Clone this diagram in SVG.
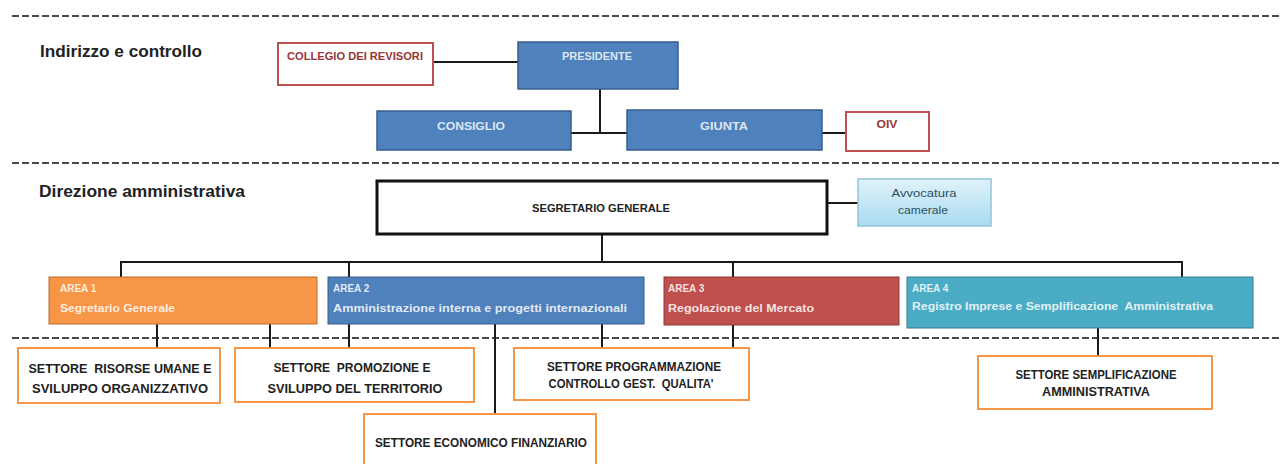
<svg xmlns="http://www.w3.org/2000/svg" width="1282" height="464" viewBox="0 0 1282 464" xml:space="preserve">
<style>
text{font-family:"Liberation Sans",Arial,sans-serif;white-space:pre}
.sep{stroke:#4a4a4a;stroke-width:2;stroke-dasharray:7 3;fill:none}
.title{font-size:16px;font-weight:bold;fill:#222}
.blue{fill:#4f81bd;stroke:#385d8a;stroke-width:1.5}
.redbox{fill:#fff;stroke:#c0504d;stroke-width:2}
.redtxt{font-size:10px;font-weight:bold;fill:#953735}
.btxt{font-size:10px;font-weight:bold;fill:#dce6f2;text-anchor:middle}
.atxt{font-size:10px;font-weight:bold;fill:#fff;fill-opacity:0.85}
.settore{fill:#fff;stroke:#f79646;stroke-width:2}
.stxt{font-size:12px;font-weight:bold;fill:#222;text-anchor:middle}
.conn line{stroke:#1a1a1a;stroke-width:2}
</style>
<defs>
<linearGradient id="avv" x1="0" y1="0" x2="0" y2="1">
<stop offset="0" stop-color="#dff2fa"/>
<stop offset="1" stop-color="#a9dbef"/>
</linearGradient>
</defs>
<rect width="1282" height="464" fill="#fff"/>
<g id="separators">
<line class="sep" x1="12" y1="16" x2="1282" y2="16"/>
<line class="sep" x1="12" y1="163" x2="1282" y2="163"/>
<line class="sep" x1="12" y1="338" x2="1282" y2="338"/>
</g>
<g id="titles">
<text class="title" x="40" y="57" textLength="162" lengthAdjust="spacingAndGlyphs">Indirizzo e controllo</text>
<text class="title" x="39" y="197" textLength="206" lengthAdjust="spacingAndGlyphs">Direzione amministrativa</text>
</g>
<g class="conn" id="connectors">
<line x1="433" y1="62" x2="518" y2="62"/>
<line x1="600" y1="89" x2="600" y2="133"/>
<line x1="571" y1="133" x2="627" y2="133"/>
<line x1="822" y1="133" x2="846" y2="133"/>
<line x1="827" y1="203" x2="858" y2="203"/>
<line x1="602" y1="234" x2="602" y2="262"/>
<line x1="120" y1="262" x2="1183" y2="262"/>
<line x1="121" y1="262" x2="121" y2="277"/>
<line x1="349" y1="262" x2="349" y2="277"/>
<line x1="733" y1="262" x2="733" y2="277"/>
<line x1="1182" y1="262" x2="1182" y2="277"/>
<line x1="157" y1="324" x2="157" y2="348"/>
<line x1="270" y1="324" x2="270" y2="348"/>
<line x1="349" y1="324" x2="349" y2="348"/>
<line x1="495" y1="324" x2="495" y2="414"/>
<line x1="602" y1="324" x2="602" y2="348"/>
<line x1="733" y1="325" x2="733" y2="348"/>
<line x1="1098" y1="328" x2="1098" y2="356"/>
</g>
<g id="collegio">
<rect class="redbox" x="278" y="43" width="155" height="42"/>
<text class="redtxt" x="287" y="60" textLength="136" lengthAdjust="spacingAndGlyphs">COLLEGIO DEI REVISORI</text>
</g>
<g id="presidente">
<rect class="blue" x="518" y="42" width="160" height="47"/>
<text class="btxt" x="597" y="60" textLength="70" lengthAdjust="spacingAndGlyphs">PRESIDENTE</text>
</g>
<g id="consiglio">
<rect class="blue" x="377" y="111" width="194" height="39"/>
<text class="btxt" x="471" y="130" textLength="68" lengthAdjust="spacingAndGlyphs">CONSIGLIO</text>
</g>
<g id="giunta">
<rect class="blue" x="627" y="110" width="195" height="40"/>
<text class="btxt" x="724" y="130" textLength="48" lengthAdjust="spacingAndGlyphs">GIUNTA</text>
</g>
<g id="oiv">
<rect class="redbox" x="846" y="112" width="83" height="39"/>
<text class="redtxt" x="887" y="128" text-anchor="middle" textLength="21" lengthAdjust="spacingAndGlyphs">OIV</text>
</g>
<g id="segretario">
<rect x="377" y="181" width="450" height="53" fill="#fff" stroke="#111" stroke-width="3"/>
<text x="601" y="212" font-size="10" font-weight="bold" fill="#222" text-anchor="middle" textLength="138" lengthAdjust="spacingAndGlyphs">SEGRETARIO GENERALE</text>
</g>
<g id="avvocatura">
<rect x="858" y="179" width="133" height="47" fill="url(#avv)" stroke="#93c3d8" stroke-width="1.5"/>
<text x="924" y="197" font-size="10" fill="#2d4f63" text-anchor="middle" textLength="65" lengthAdjust="spacingAndGlyphs">Avvocatura</text>
<text x="923" y="214" font-size="10" fill="#2d4f63" text-anchor="middle" textLength="50" lengthAdjust="spacingAndGlyphs">camerale</text>
</g>
<g id="area1">
<rect x="49" y="277" width="268" height="47" fill="#f79646" stroke="#b66d31" stroke-width="1"/>
<text class="atxt" x="60" y="292">AREA 1</text>
<text class="atxt" x="60" y="312" textLength="115" lengthAdjust="spacingAndGlyphs">Segretario Generale</text>
</g>
<g id="area2">
<rect x="328" y="277" width="316" height="47" fill="#4f81bd" stroke="#385d8a" stroke-width="1"/>
<text class="atxt" x="333" y="292">AREA 2</text>
<text class="atxt" x="333" y="312" textLength="294" lengthAdjust="spacingAndGlyphs">Amministrazione interna e progetti internazionali</text>
</g>
<g id="area3">
<rect x="664" y="277" width="235" height="48" fill="#c0504d" stroke="#8c3836" stroke-width="1"/>
<text class="atxt" x="668" y="292">AREA 3</text>
<text class="atxt" x="668" y="312" textLength="146" lengthAdjust="spacingAndGlyphs">Regolazione del Mercato</text>
</g>
<g id="area4">
<rect x="907" y="277" width="346" height="51" fill="#4bacc6" stroke="#357d91" stroke-width="1"/>
<text class="atxt" x="912" y="292">AREA 4</text>
<text class="atxt" x="912" y="310" textLength="301" lengthAdjust="spacingAndGlyphs">Registro Imprese e Semplificazione  Amministrativa</text>
</g>
<g id="settore-risorse">
<rect class="settore" x="18" y="348" width="202" height="55"/>
<text class="stxt" x="120" y="373" textLength="183" lengthAdjust="spacingAndGlyphs">SETTORE  RISORSE UMANE E</text>
<text class="stxt" x="120" y="393" textLength="176" lengthAdjust="spacingAndGlyphs">SVILUPPO ORGANIZZATIVO</text>
</g>
<g id="settore-promozione">
<rect class="settore" x="235" y="348" width="239" height="54"/>
<text class="stxt" x="352" y="372" textLength="157" lengthAdjust="spacingAndGlyphs">SETTORE  PROMOZIONE E</text>
<text class="stxt" x="355" y="393" textLength="175" lengthAdjust="spacingAndGlyphs">SVILUPPO DEL TERRITORIO</text>
</g>
<g id="settore-economico">
<rect class="settore" x="364" y="414" width="232" height="60"/>
<text class="stxt" x="481" y="447" font-size="11" textLength="212" lengthAdjust="spacingAndGlyphs">SETTORE ECONOMICO FINANZIARIO</text>
</g>
<g id="settore-programmazione">
<rect class="settore" x="514" y="348" width="235" height="52"/>
<text class="stxt" x="634" y="371" font-size="11" textLength="174" lengthAdjust="spacingAndGlyphs">SETTORE PROGRAMMAZIONE</text>
<text class="stxt" x="631" y="388" font-size="11" textLength="165" lengthAdjust="spacingAndGlyphs">CONTROLLO GEST.  QUALITA'</text>
</g>
<g id="settore-semplificazione">
<rect class="settore" x="978" y="356" width="234" height="53"/>
<text class="stxt" x="1096" y="379" font-size="11" textLength="161" lengthAdjust="spacingAndGlyphs">SETTORE SEMPLIFICAZIONE</text>
<text class="stxt" x="1096" y="396" font-size="11" textLength="108" lengthAdjust="spacingAndGlyphs">AMMINISTRATIVA</text>
</g>
</svg>
